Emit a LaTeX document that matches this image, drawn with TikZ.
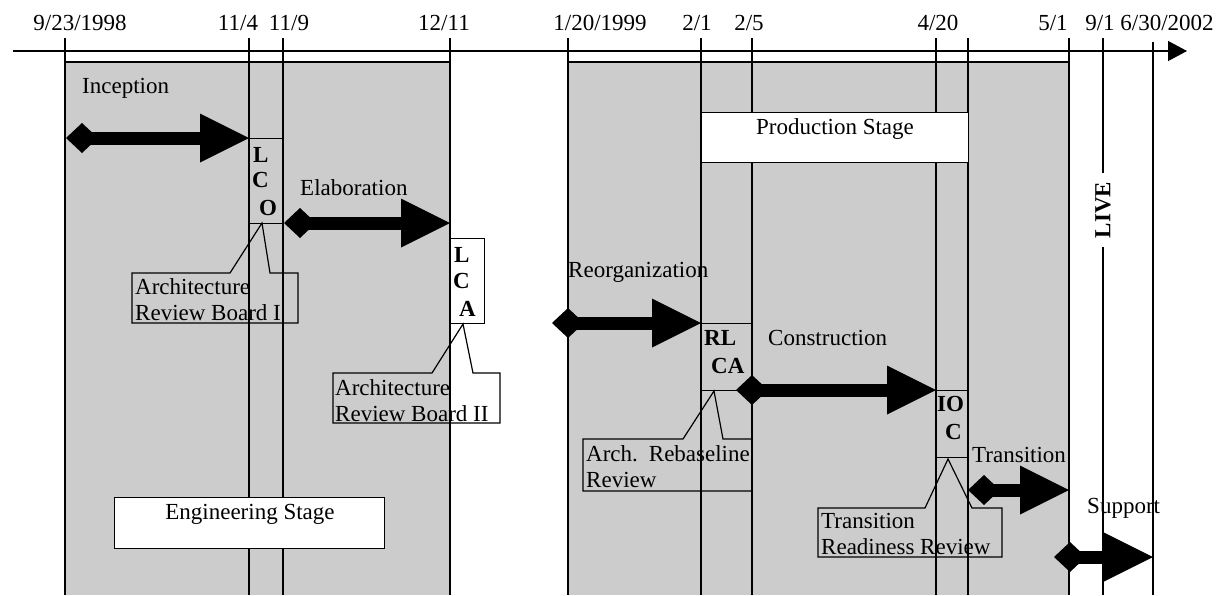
\documentclass[tikz,border=0pt]{standalone}
\usepackage{fontspec}
\setmainfont{Liberation Serif}
\usetikzlibrary{arrows.meta}
\definecolor{stagegray}{gray}{0.80}
\begin{document}
\begin{tikzpicture}[x=1pt,y=-1pt,
  font=\fontsize{23}{26}\selectfont,
  tl/.style={line width=1.2pt, draw=black},
  lbl/.style={inner sep=0pt, anchor=base west},
  blbl/.style={inner sep=0pt, anchor=base west, font=\fontsize{23}{26}\selectfont\bfseries},
  datelbl/.style={inner sep=0pt, anchor=base},
  boxn/.style={draw=black, line width=1.2pt, inner sep=0pt, anchor=north west},
  whitebox/.style={boxn, fill=white},
  bigarrow/.style={line width=13pt, {Diamond[length=32pt,width=30pt,line width=0pt]}-{Triangle[length=49pt,width=49pt,line width=0pt]}},
  callout/.style={line width=1.2pt, draw=black}
]
\useasboundingbox (0,0) rectangle (1226,595);
\fill[white] (0,0) rectangle (1226,595);

% stage backgrounds
\fill[stagegray] (65,62) rectangle (450,595);
\fill[stagegray] (568,62) rectangle (1069,595);
\draw[tl] (65,62) -- (450,62);
\draw[tl] (568,62) -- (1069,62);

% timeline axis
\coordinate (axs) at (13,51);
\coordinate (axe) at (1187,51);
\draw[tl, -{Triangle[length=19pt,width=20pt]}] (axs) -- (axe);

% tick lines
\foreach \x in {65,249,283,450,568,701,752,936,968,1069}{
  \draw[tl] (\x,38) -- (\x,595);
}
\draw[tl] (1153,42) -- (1153,595);

% LIVE line
\node[inner sep=0pt, inner xsep=9pt, rotate=90, font=\fontsize{23}{26}\selectfont\bfseries] (live) at (1103,210) {LIVE};
\coordinate (livetop) at (1103,38);
\coordinate (livebot) at (1103,595);
\draw[tl] (livetop) -- (live);
\draw[tl] (live) -- (livebot);

% date labels
\node[datelbl] (d1) at (80,30) {9/23/1998};
\node[datelbl] (d2) at (238,30) {11/4};
\node[datelbl] (d3) at (289,30) {11/9};
\node[datelbl] (d4) at (444,30) {12/11};
\node[datelbl] (d5) at (600,30) {1/20/1999};
\node[datelbl] (d6) at (697,30) {2/1};
\node[datelbl] (d7) at (749,30) {2/5};
\node[datelbl] (d8) at (938,30) {4/20};
\node[datelbl] (d9) at (1053,30) {5/1};
\node[datelbl] (d10) at (1100,30) {9/1};
\node[datelbl] (d11) at (1167,30) {6/30/2002};

% stage boxes
\node[whitebox, minimum width=270pt, minimum height=51pt] (eng) at (114,497) {};
\node[datelbl] (engt) at (250,519) {Engineering Stage};
\node[whitebox, minimum width=267pt, minimum height=50pt] (prod) at (701,112) {};
\node[datelbl] (prodt) at (835,134) {Production Stage};

% milestone boxes
\node[boxn, minimum width=34pt, minimum height=85pt] (lco) at (249,138) {};
\node[whitebox, minimum width=34pt, minimum height=85pt] (lca) at (450,238) {};
\node[boxn, minimum width=51pt, minimum height=67pt] (rlca) at (701,323) {};
\node[boxn, minimum width=32pt, minimum height=67pt] (ioc) at (936,390) {};

\node[blbl] (lco1) at (253,162) {L};
\node[blbl] (lco2) at (252,187) {C};
\node[blbl] (lco3) at (259,215) {O};
\node[blbl] (lca1) at (454,262) {L};
\node[blbl] (lca2) at (453,288) {C};
\node[blbl] (lca3) at (459,316) {A};
\node[blbl] (rlca1) at (704,345) {RL};
\node[blbl] (rlca2) at (711,373) {CA};
\node[blbl] (ioc1) at (937,411) {IO};
\node[blbl] (ioc2) at (945,439) {C};

% callouts
\coordinate (p1) at (262,223);
\draw[callout] (132,273) -- (230,273) -- (p1) -- (270,273) -- (298,273) -- (298,323) -- (132,323) -- cycle;
\node[lbl] (arb1a) at (135,294) {Architecture};
\node[lbl] (arb1b) at (135,320) {Review Board I};

\coordinate (p2) at (463,324);
\draw[callout] (333,373) -- (432,373) -- (p2) -- (473,373) -- (500,373) -- (500,423) -- (333,423) -- cycle;
\node[lbl] (arb2a) at (335,395) {Architecture};
\node[lbl] (arb2b) at (335,421) {Review Board II};

\coordinate (p3) at (714,391);
\draw[callout] (583,439) -- (683,439) -- (p3) -- (723,439) -- (752,439) -- (752,491) -- (583,491) -- cycle;
\node[lbl] (arra) at (586,461) {Arch.\hspace{11pt}Rebaseline};
\node[lbl] (arrb) at (586,487) {Review};

\coordinate (p4) at (948,459);
\draw[callout] (818,508) -- (925,508) -- (p4) -- (972,508) -- (1002,508) -- (1002,557) -- (818,557) -- cycle;
\node[lbl] (trra) at (821,528) {Transition};
\node[lbl] (trrb) at (821,554) {Readiness Review};

% phase labels
\node[lbl] (inc) at (82,93) {Inception};
\node[lbl] (elab) at (300,195) {Elaboration};
\node[lbl] (reorg) at (568,277) {Reorganization};
\node[lbl] (constr) at (768,345) {Construction};
\node[lbl] (trans) at (972,462) {Transition};
\node[lbl] (supp) at (1087,513) {Support};

% phase arrows
\coordinate (a1) at (66,138);
\draw[bigarrow] (a1) -- (lco.north west);
\coordinate (a2) at (284,223);
\coordinate (a2e) at (450,223);
\draw[bigarrow] (a2) -- (a2e);
\coordinate (a3) at (552,323);
\draw[bigarrow] (a3) -- (rlca.north west);
\coordinate (a4) at (736,390);
\draw[bigarrow] (a4) -- (ioc.north west);
\coordinate (a5) at (968,490);
\coordinate (a5e) at (1069,490);
\draw[bigarrow] (a5) -- (a5e);
\coordinate (a6) at (1054,557);
\coordinate (a6e) at (1153,557);
\draw[bigarrow] (a6) -- (a6e);
\end{tikzpicture}
\end{document}
